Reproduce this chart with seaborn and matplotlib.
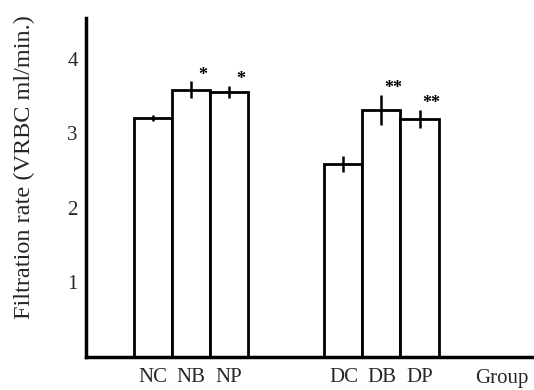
import matplotlib
matplotlib.use("Agg")
import matplotlib.pyplot as plt
import seaborn as sns
import pandas as pd

# ---- data ----
groups = ["NC", "NB", "NP", "DC", "DB", "DP"]
rates = [3.21, 3.59, 3.56, 2.59, 3.32, 3.20]
errors = [0.04, 0.11, 0.08, 0.11, 0.20, 0.12]
stars = ["", "*", "*", "", "**", "**"]
y_ticks = [1, 2, 3, 4]
y_label = "Filtration rate (VRBC ml/min.)"
x_label = "Group"

# slot order: two blank slots separate the two sets of bars
order = ["NC", "NB", "NP", " ", "  ", "DC", "DB", "DP"]

sns.set_style("white")
plt.rcParams["font.family"] = ["Liberation Serif", "DejaVu Serif"]

df = pd.DataFrame({"group": groups, "rate": rates})

fig = plt.figure(figsize=(5.34, 3.90), dpi=100)
ax = fig.add_axes([86 / 534, 1 - 357 / 390, (533 - 86) / 534, (357 - 18) / 390])

sns.barplot(data=df, x="group", y="rate", order=order, color="white",
            edgecolor="black", linewidth=2, width=1.0, errorbar=None,
            saturation=1, ax=ax)

xpos = [order.index(g) for g in groups]
ax.errorbar(xpos, rates, yerr=errors, fmt="none", ecolor="black",
            elinewidth=1.8, capsize=0, zorder=5)

for x, r, e, s in zip(xpos, rates, errors, stars):
    if s:
        ax.text(x + 0.3, r + e - 0.03, s, ha="center", va="bottom",
                fontsize=13, fontweight="bold", color="black")

ax.set_xlim(-1.76, 9.98)
ax.set_ylim(0, 4.55)
ax.set_yticks(y_ticks)
ax.set_yticklabels([str(t) for t in y_ticks], fontsize=15)
ax.set_xticks(xpos)
ax.set_xticklabels(groups, fontsize=15)
ax.tick_params(axis="x", length=0, pad=8)
ax.tick_params(axis="y", direction="in", length=5, width=1, pad=6)

for side in ["top", "right"]:
    ax.spines[side].set_visible(False)
for side in ["left", "bottom"]:
    ax.spines[side].set_linewidth(2.5)
    ax.spines[side].set_color("black")

ax.set_xlabel("")
ax.set_ylabel(y_label, fontsize=17.5)
ax.yaxis.set_label_coords(-0.115, 0.56)
fig.text(502 / 534, 1 - 378 / 390, x_label, ha="center", va="center", fontsize=15)

fig.savefig("out.png", dpi=100)
